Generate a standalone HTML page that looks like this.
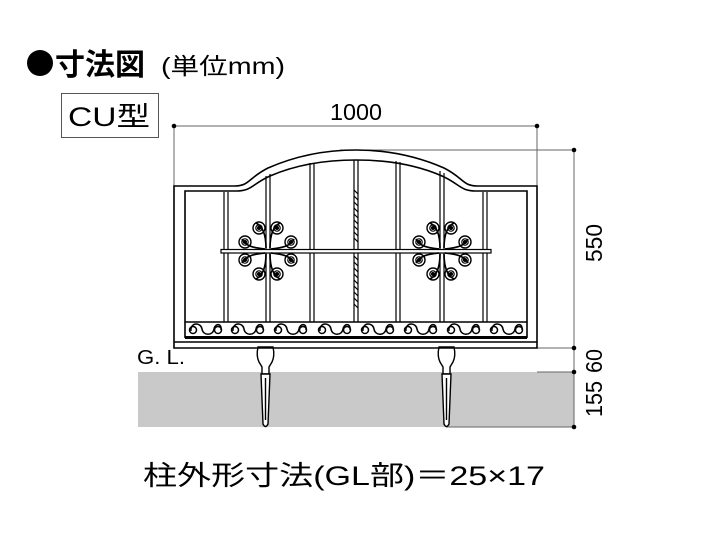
<!DOCTYPE html>
<html><head><meta charset="utf-8"><style>
html,body{margin:0;padding:0;background:#fff;}
svg{display:block;}
text{font-family:"Liberation Sans","Noto Sans CJK JP",sans-serif;}
</style></head><body>
<svg width="720" height="540" viewBox="0 0 720 540" xmlns="http://www.w3.org/2000/svg">
<defs>
<g id="sp"><circle r="6" fill="none" stroke="#000" stroke-width="1.4"/><circle r="3.2" fill="none" stroke="#000" stroke-width="1.2"/><circle r="1.2" fill="#000"/></g>
<g id="orn" fill="none" stroke="#000" stroke-width="1.7">
<path d="M-2,-3 C-2,-14 -4,-24 -12,-28"/><path d="M2,-3 C2,-14 4,-24 12,-28"/>
<path d="M-3,-2 C-12,-3 -22,-4 -26,-12"/><path d="M3,-2 C12,-3 22,-4 26,-12"/>
<path d="M-2,3 C-2,14 -4,24 -12,28"/><path d="M2,3 C2,14 4,24 12,28"/>
<path d="M-3,2 C-12,3 -22,4 -26,12"/><path d="M3,2 C12,3 22,4 26,12"/>
<use href="#sp" x="-9" y="-23"/><use href="#sp" x="9" y="-23"/>
<use href="#sp" x="-23" y="-9"/><use href="#sp" x="23" y="-9"/>
<use href="#sp" x="-23" y="9"/><use href="#sp" x="23" y="9"/>
<use href="#sp" x="-9" y="23"/><use href="#sp" x="9" y="23"/>
</g>
<g id="scr" fill="none" stroke="#000" stroke-width="1.5">
<path d="M-14,2 C-15,-7 -4,-7 -3,0 C-2,7 8,7 9,0 C10,-6 17,-6 16,1"/>
<circle cx="-12" cy="1" r="3.5"/><circle cx="13" cy="1" r="3.5"/>
</g>
</defs>

<!-- Title -->
<circle cx="40" cy="63" r="13" fill="#000"/>
<text x="55" y="75" font-size="30" font-weight="bold">寸法図</text>
<text x="161" y="74" font-size="23" textLength="124" lengthAdjust="spacingAndGlyphs">(単位mm)</text>
<rect x="61.5" y="93.5" width="97" height="44" fill="#fff" stroke="#555" stroke-width="1"/>
<text x="68" y="126" font-size="27" textLength="82" lengthAdjust="spacingAndGlyphs">CU型</text>

<!-- ground -->
<rect x="138" y="372" width="436" height="55" fill="#c9c9c9"/>
<text x="137" y="364" font-size="20" textLength="48" lengthAdjust="spacingAndGlyphs">G. L.</text>

<!-- dimension lines -->
<g stroke="#666" stroke-width="1" fill="none">
<line x1="174" y1="126" x2="537" y2="126"/>
<line x1="174" y1="126" x2="174" y2="186"/>
<line x1="537" y1="126" x2="537" y2="186"/>
<line x1="574" y1="150" x2="574" y2="427"/>
<line x1="340" y1="150" x2="574" y2="150"/>
<line x1="537" y1="348" x2="574" y2="348"/>
<line x1="537" y1="372" x2="574" y2="372"/>
<line x1="446" y1="427" x2="574" y2="427"/>
</g>
<g fill="#000">
<circle cx="174" cy="126" r="2.3"/><circle cx="537" cy="126" r="2.3"/>
<circle cx="574" cy="150" r="2.3"/><circle cx="574" cy="348" r="2.3"/>
<circle cx="574" cy="372" r="2.3"/><circle cx="574" cy="427" r="2.3"/>
</g>
<text x="356" y="120" font-size="23" text-anchor="middle" textLength="52" lengthAdjust="spacingAndGlyphs">1000</text>
<g font-size="23">
<text transform="translate(602,243) rotate(-90)" text-anchor="middle" textLength="38" lengthAdjust="spacingAndGlyphs">550</text>
<text transform="translate(602,361) rotate(-90)" text-anchor="middle" textLength="24" lengthAdjust="spacingAndGlyphs">60</text>
<text transform="translate(602,399) rotate(-90)" text-anchor="middle" textLength="36" lengthAdjust="spacingAndGlyphs">155</text>
</g>

<!-- posts -->
<g fill="#fff" stroke="#000" stroke-width="1.4">
<path d="M258,347 L273,347 Q275,356 272,362 L269,367 L269,374 L262,374 L262,367 L259,362 Q256,356 258,347 Z"/>
<path d="M261,374 L270,374 L268,424 Q265.5,429 263,424 Z"/>
<line x1="265.5" y1="378" x2="265.5" y2="420"/>
<path d="M439,347 L454,347 Q456,356 453,362 L450,367 L450,374 L443,374 L443,367 L440,362 Q437,356 439,347 Z"/>
<path d="M442,374 L451,374 L449,424 Q446.5,429 444,424 Z"/>
<line x1="446.5" y1="378" x2="446.5" y2="420"/>
</g>

<!-- frame -->
<g fill="none" stroke="#000" stroke-width="1.6">
<path d="M174,348 L174,186 L234,186 C250,186 248,178 268,168 C300,154 330,150 356,150 C382,150 412,154 444,168 C464,178 462,186 478,186 L537,186 L537,348 Z"/>
<path d="M185,338 L185,191 L236,191 C252,191 252,184 270,176 C300,163 330,160 356,160 C382,160 412,163 442,176 C460,184 460,191 476,191 L527,191 L527,338"/>
<line x1="174" y1="342" x2="537" y2="342"/>
<line x1="185" y1="322" x2="527" y2="322"/>
</g>
<rect x="185" y="336" width="342" height="3" fill="#000"/>

<!-- vertical bars -->
<g stroke="#000" stroke-width="1.2" fill="none">
<line x1="224" y1="192" x2="224" y2="322"/><line x1="228" y1="192" x2="228" y2="322"/>
<line x1="266" y1="176" x2="266" y2="322"/><line x1="270" y1="174" x2="270" y2="322"/>
<line x1="310" y1="163" x2="310" y2="322"/><line x1="314" y1="163" x2="314" y2="322"/>
<line x1="354" y1="160" x2="354" y2="322"/><line x1="358" y1="160" x2="358" y2="322"/>
<line x1="396" y1="161" x2="396" y2="322"/><line x1="400" y1="162" x2="400" y2="322"/>
<line x1="440" y1="171" x2="440" y2="322"/><line x1="444" y1="173" x2="444" y2="322"/>
<line x1="483" y1="192" x2="483" y2="322"/><line x1="487" y1="192" x2="487" y2="322"/>
</g>
<path d="M354,190 L358,194 M354,196 L358,200 M354,202 L358,206 M354,208 L358,212 M354,214 L358,218 M354,220 L358,224 M354,226 L358,230 M354,232 L358,236 M354,238 L358,242 M354,256 L358,260 M354,262 L358,266 M354,268 L358,272 M354,274 L358,278 M354,280 L358,284 M354,286 L358,290 M354,292 L358,296 M354,298 L358,302 M354,304 L358,308" stroke="#000" stroke-width="1.2"/>
<!-- horizontal bar -->
<rect x="221" y="249.5" width="270" height="3.5" fill="#fff" stroke="#000" stroke-width="1.2"/>

<use href="#orn" x="268" y="251"/>
<use href="#orn" x="442" y="251"/>

<!-- scroll band -->
<use href="#scr" x="205" y="329"/>
<use href="#scr" x="247" y="329"/>
<use href="#scr" x="290" y="329"/>
<use href="#scr" x="334" y="329"/>
<use href="#scr" x="377" y="329"/>
<use href="#scr" x="420" y="329"/>
<use href="#scr" x="463" y="329"/>
<use href="#scr" x="506" y="329"/>

<!-- bottom text -->
<text x="143" y="485" font-size="27" textLength="402" lengthAdjust="spacingAndGlyphs">柱外形寸法(GL部)＝25×17</text>
</svg>
</body></html>
